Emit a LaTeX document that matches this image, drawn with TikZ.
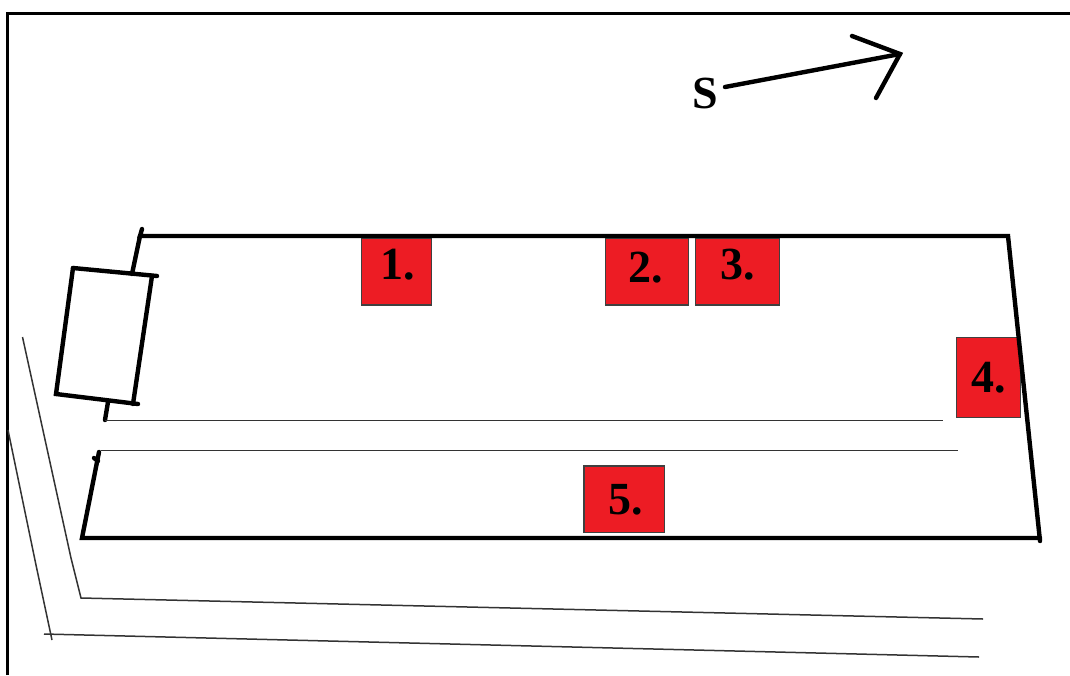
\documentclass[tikz,border=0pt]{standalone}
\usepackage{fontspec}
\setmainfont{Liberation Serif}
\definecolor{bayred}{HTML}{ED1C24}
\tikzset{
  thick line/.style={line width=4.4pt,line cap=round,line join=miter,black},
  thin line/.style={line width=1.5pt,draw=black!80},
  frame line/.style={line width=3pt,black},
  bay/.style={draw=black!75,line width=1.2pt,fill=bayred},
  bay label/.style={font=\bfseries\fontsize{46}{46}\selectfont,text=black,inner sep=0pt},
  north line/.style={line width=4.4pt,line cap=round,line join=miter,black}
}
\begin{document}
\begin{tikzpicture}[x=1pt,y=-1pt]
\useasboundingbox (0,0) rectangle (1070,675);
\fill[white] (0,0) rectangle (1070,675);
% frame
\draw[frame line] (7.5,675) -- (7.5,13.5) -- (1070,13.5);
% red bays
\draw[bay] (361.5,238) rectangle (431.5,305);
\draw[bay] (605.5,238) rectangle (688.5,305);
\draw[bay] (695.5,238) rectangle (779.5,305);
\draw[bay] (956.5,337.5) rectangle (1020.5,417.5);
\draw[bay] (584,466) rectangle (664.5,532.5);
\node[bay label] (n1) at (397.5,265) {1.};
\node[bay label] (n2) at (645.5,268) {2.};
\node[bay label] (n3) at (737.5,265) {3.};
\node[bay label] (n4) at (988.5,378) {4.};
\node[bay label] (n5) at (625.5,500) {5.};
% building outline
\draw[thick line] (142,229) -- (140,236) -- (1008,236) -- (1040,541);
\draw[thick line] (1040,538) -- (82,538) -- (99,452);
\draw[thick line] (140,236) -- (132,274);
\draw[thick line] (94,458) -- (98,461);
% annex
\draw[thick line] (73,268) -- (157,276);
\draw[thick line] (73,268) -- (56,394) -- (138,404);
\draw[thick line] (152,276) -- (133,404);
\draw[thick line] (108,402) -- (105,420);
% corridor lines
\draw[thin line] (105,420.5) -- (943,420.5);
\draw[thin line] (101,450.5) -- (958,450.5);
% road
\draw[thin line] (22.5,337) -- (71,558) -- (81,598) -- (983,619);
\draw[thin line] (8,430) -- (36,565) -- (52,640);
\draw[thin line] (44,634) -- (979,657);
% south arrow
\node[font=\bfseries\fontsize{46}{46}\selectfont,inner sep=0pt,text=black] (s) at (705,93) {S};
\coordinate (tip) at (900,54);
\draw[north line] (725,87) -- (tip);
\draw[north line] (852,36) -- (tip) -- (876,98);
\end{tikzpicture}
\end{document}
